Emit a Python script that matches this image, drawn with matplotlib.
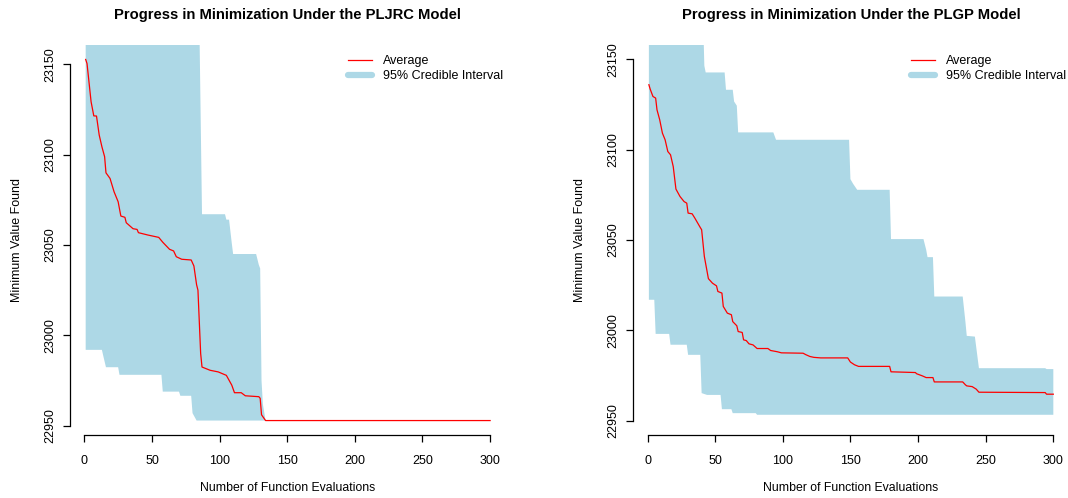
import numpy as np
import matplotlib
matplotlib.use("Agg")
import matplotlib.pyplot as plt
from matplotlib.lines import Line2D

plt.rcParams['font.family'] = ['Liberation Sans', 'DejaVu Sans']

BAND_COLOR = "#ADD8E6"
LINE_COLOR = "#FF0000"

# PLJRC model: running minimum averaged over replicates, plus 95% band
pljrc_avg_n = [1, 2, 5, 7, 9, 11, 13, 15, 16, 19, 22, 25, 27, 30, 31, 36, 39, 40,
               47, 55, 58, 63, 66, 68, 72, 79, 81, 83, 84, 86, 87, 93, 99, 105,
               107, 109, 111, 116, 119, 129, 130, 131, 134, 300]
pljrc_avg = [23152.6, 23150.3, 23129.2, 23121.4, 23121.3, 23110.8, 23104.3,
             23098.8, 23089.9, 23086.8, 23079.4, 23073.9, 23066.0, 23065.3,
             23062.3, 23059.0, 23058.6, 23056.8, 23055.5, 23054.2, 23051.5,
             23047.6, 23046.7, 23043.5, 23042.1, 23041.7, 23038.4, 23028.0,
             23025.0, 22990.0, 22982.5, 22980.7, 22979.8, 22977.9, 22975.2,
             22972.5, 22968.3, 22968.3, 22966.6, 22966.1, 22965.2, 22956.1,
             22952.9, 22952.9]

pljrc_up_n = [1, 85, 87, 104, 105, 107, 109, 110, 127, 129, 130, 131, 132, 134, 300]
pljrc_up = [23175, 23175, 23067, 23067, 23064, 23064, 23051, 23045, 23045,
            23039, 23037, 22975, 22962, 22952.9, 22952.9]

pljrc_lo_n = [1, 13, 14, 16, 25, 26, 57, 58, 70, 71, 79, 80, 83, 300]
pljrc_lo = [22992.0, 22992.0, 22988.7, 22982.4, 22982.4, 22978.2, 22978.2,
            22968.9, 22968.9, 22966.6, 22966.6, 22957.0, 22952.9, 22952.9]

# PLGP model
plgp_avg_n = [1, 2, 4, 6, 7, 9, 11, 13, 15, 17, 19, 21, 24, 27, 29, 30, 33, 35,
              39, 40, 42, 45, 48, 51, 52, 55, 56, 59, 62, 63, 66, 67, 70, 71,
              73, 75, 78, 81, 89, 91, 96, 99, 115, 117, 120, 123, 128, 148,
              150, 153, 156, 179, 180, 198, 199, 203, 206, 211, 212, 233, 235,
              236, 240, 243, 245, 294, 295, 300]
plgp_avg = [23136.0, 23133.5, 23129.5, 23128.6, 23122.1, 23116.6, 23109.2,
            23105.5, 23099.0, 23097.2, 23090.7, 23078.2, 23074.1, 23071.3,
            23070.4, 23064.9, 23064.5, 23062.1, 23056.9, 23055.7, 23040.9,
            23028.6, 23026.1, 23024.6, 23021.5, 23020.6, 23013.2, 23009.5,
            23008.6, 23004.8, 23002.5, 22999.3, 22998.8, 22994.7, 22994.3,
            22992.5, 22991.9, 22989.9, 22989.9, 22988.8, 22988.1, 22987.5,
            22987.3, 22986.5, 22985.5, 22985.0, 22984.7, 22984.7, 22982.4,
            22980.9, 22980.0, 22980.0, 22977.0, 22976.6, 22975.9, 22974.8,
            22973.8, 22973.8, 22971.4, 22971.4, 22969.8, 22969.2, 22968.8,
            22967.4, 22965.7, 22965.5, 22964.6, 22964.6]

plgp_up_n = [1, 41, 42, 43, 57, 58, 63, 64, 66, 67, 93, 95, 149, 150, 152, 155,
             179, 180, 204, 206, 207, 211, 212, 233, 235, 236, 242, 245, 294,
             295, 300]
plgp_up = [23175, 23175, 23146.5, 23142.8, 23142.8, 23133.2, 23133.2, 23126.7,
           23124.4, 23109.6, 23109.6, 23105.5, 23105.5, 23083.7, 23081.1,
           23077.8, 23077.8, 23050.5, 23050.5, 23044.6, 23040.5, 23040.5,
           23018.7, 23018.7, 23004.8, 22996.9, 22996.5, 22979.0, 22979.0,
           22978.5, 22978.5]

plgp_lo_n = [1, 5, 6, 16, 17, 29, 30, 39, 40, 44, 54, 55, 62, 63, 80, 81, 300]
plgp_lo = [23016.9, 23016.9, 22998.0, 22998.0, 22992.0, 22992.0, 22986.4,
           22986.4, 22965.2, 22964.2, 22964.2, 22956.3, 22956.3, 22954.1,
           22954.1, 22953.2, 22953.2]

panels = [
    ("Progress in Minimization Under the PLJRC Model",
     pljrc_avg_n, pljrc_avg, pljrc_up_n, pljrc_up, pljrc_lo_n, pljrc_lo,
     (min(pljrc_avg), max(pljrc_avg))),
    ("Progress in Minimization Under the PLGP Model",
     plgp_avg_n, plgp_avg, plgp_up_n, plgp_up, plgp_lo_n, plgp_lo,
     (22950, 23150)),
]

W, H = 1068, 498
fig = plt.figure(figsize=(W / 100, H / 100), dpi=100)

ax_w, ax_h = 436.8, 390.0
lefts = [69.5, 632.7]
bottom = 63.0

for left, (title, an, av, un, uv, ln, lv, yr) in zip(lefts, panels):
    ax = fig.add_axes([left / W, bottom / H, ax_w / W, ax_h / H])

    # band polygon: upper edge left to right, lower edge back
    px = list(un) + list(ln)[::-1]
    py = list(uv) + list(lv)[::-1]
    ax.fill(px, py, color=BAND_COLOR, lw=0)
    ax.plot(an, av, color=LINE_COLOR, lw=0.9)

    # R-style 4% padding around the data range
    xpad = 0.04 * (300 - 1)
    ax.set_xlim(1 - xpad, 300 + xpad)
    ypad = 0.04 * (yr[1] - yr[0])
    ax.set_ylim(yr[0] - ypad, yr[1] + ypad)

    ax.set_xticks([0, 50, 100, 150, 200, 250, 300])
    ax.set_yticks([22950, 23000, 23050, 23100, 23150])
    for s in ("top", "right"):
        ax.spines[s].set_visible(False)
    ax.spines["bottom"].set_bounds(0, 300)
    ax.spines["left"].set_bounds(22950, 23150)
    ax.spines["bottom"].set_linewidth(0.9)
    ax.spines["left"].set_linewidth(0.9)
    ax.tick_params(direction="out", length=5.2, width=0.9, labelsize=9,
                   colors="black")
    ax.tick_params(axis="x", pad=9)
    ax.tick_params(axis="y", pad=6.6, labelrotation=90)
    for lab in ax.get_yticklabels():
        lab.set_rotation_mode("anchor")
        lab.set_ha("center")
        lab.set_va("baseline")

    ax.text(0.5, 1 + 30 / ax_h, title, transform=ax.transAxes,
            ha="center", va="center", fontsize=10.6, fontweight="bold")
    ax.set_xlabel("Number of Function Evaluations", fontsize=8.8, va="center")
    ax.xaxis.set_label_coords(0.5, -53 / ax_h)
    ax.set_ylabel("Minimum Value Found", fontsize=9, va="center")
    ax.yaxis.set_label_coords(-52.5 / ax_w, 0.5)

    handles = [Line2D([], [], color=LINE_COLOR, lw=0.9),
               Line2D([], [], color=BAND_COLOR, lw=4.5, solid_capstyle="round")]
    ax.legend(handles, ["Average", "95% Credible Interval"], loc="upper right",
              bbox_to_anchor=(1 - 3 / ax_w, 1 - 10 / ax_h), frameon=False,
              fontsize=9, borderpad=0, borderaxespad=0, handlelength=1.9,
              handletextpad=0.9, labelspacing=0.25)

fig.savefig("out.png", dpi=100)
